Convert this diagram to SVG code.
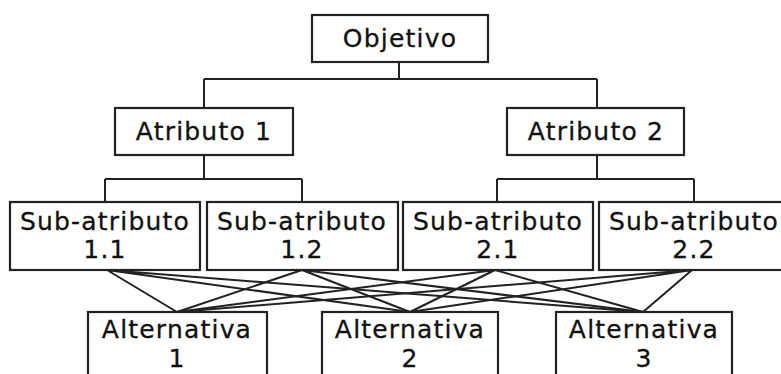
<svg xmlns="http://www.w3.org/2000/svg" width="781" height="374" viewBox="0 0 781 374">
<style>
.box{fill:#fff;stroke:#222;stroke-width:2.2}
.ln{fill:none;stroke:#222;stroke-width:2}
text{font-family:"DejaVu Sans",sans-serif;font-size:25px;fill:#111;stroke:#111;stroke-width:0.3;text-anchor:middle;letter-spacing:1.2px}
</style>
<rect width="781" height="374" fill="#fff"/>
<g id="connectors" class="ln">
<path d="M399 62V79M204 79H597M204 79V108M597 79V108"/>
<path d="M204 155V179M105 179H302M105 179V202M302 179V202"/>
<path d="M597 155V179M497 179H694M497 179V202M694 179V202"/>
<path d="M107 270L177 312M107 270L410 312M107 270L643 312"/>
<path d="M302 270L177 312M302 270L410 312M302 270L643 312"/>
<path d="M495 270L177 312M495 270L410 312M495 270L643 312"/>
<path d="M692 270L177 312M692 270L410 312M692 270L643 312"/>
</g>
<g id="objetivo"><rect class="box" x="312" y="15" width="176" height="47"/><text x="400" y="47">Objetivo</text></g>
<g id="atributo1"><rect class="box" x="115" y="108" width="178" height="47"/><text x="204" y="140">Atributo 1</text></g>
<g id="atributo2"><rect class="box" x="507" y="108" width="177" height="47"/><text x="596" y="140">Atributo 2</text></g>
<g id="sub11"><rect class="box" x="10" y="202" width="190" height="68"/><text x="105" y="230">Sub-atributo</text><text x="105" y="258">1.1</text></g>
<g id="sub12"><rect class="box" x="207" y="202" width="191" height="68"/><text x="302" y="230">Sub-atributo</text><text x="302" y="258">1.2</text></g>
<g id="sub21"><rect class="box" x="403" y="202" width="190" height="68"/><text x="498" y="230">Sub-atributo</text><text x="498" y="258">2.1</text></g>
<g id="sub22"><rect class="box" x="599" y="202" width="192" height="68"/><text x="694" y="230">Sub-atributo</text><text x="694" y="258">2.2</text></g>
<g id="alt1"><rect class="box" x="88" y="312" width="179" height="80"/><text x="177" y="338">Alternativa</text><text x="177" y="367">1</text></g>
<g id="alt2"><rect class="box" x="322" y="312" width="176" height="80"/><text x="410" y="338">Alternativa</text><text x="410" y="367">2</text></g>
<g id="alt3"><rect class="box" x="556" y="312" width="176" height="80"/><text x="644" y="338">Alternativa</text><text x="644" y="367">3</text></g>
</svg>
